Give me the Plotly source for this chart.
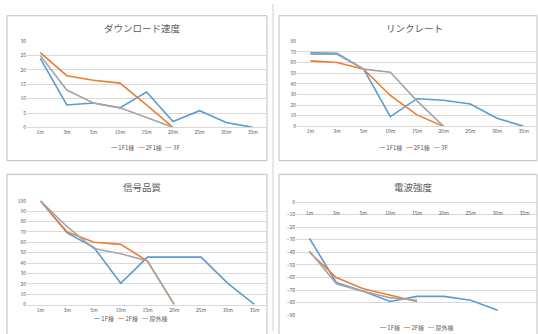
import plotly.graph_objects as go

W, H = 538, 334

cats = ["1m", "3m", "5m", "10m", "15m", "20m", "25m", "30m", "35m"]

dl_1f = [24, 7.8, 8.5, 6.8, 12.3, 2, 5.8, 1.7, 0]
dl_2f = [26, 18, 16.4, 15.4, 7.8, 0]
dl_3f = [25, 13, 8.5, 6.8, 3.4, 0]

lr_1f = [69, 68.6, 53.8, 9.2, 26, 24.6, 21, 7.7, 0]
lr_2f = [61.5, 60, 53.8, 29, 10.8, 0]
lr_3f = [67.7, 67.7, 53.8, 50.8, 24, 0]

sq_1f = [100, 69, 55, 20.5, 45.7, 45.7, 45.7, 20.5, 0]
sq_2f = [100, 70, 60, 58, 42, 0]
sq_3f = [100, 75, 54, 49, 42, 0]

rs_1f = [-29, -64, -71, -79, -75, -75, -78, -86]
rs_2f = [-40, -60, -69, -74, -79]
rs_3f = [-39, -65, -71, -76, -78]

titles = ["ダウンロード速度", "リンクレート", "信号品質", "電波強度"]
names_top = ["1F1棟", "2F1棟", "3F"]
names_bot = ["1F棟", "2F棟", "屋外棟"]
colors = ["#5B9BD5", "#ED7D31", "#A5A5A5"]

FONT = "Noto Sans CJK JP"
TXT = "#595959"
GRID = "#D9D9D9"

def fx(px):
    return px / W

def fy(py):
    return 1 - py / H

fig = go.Figure()

panels = [
    dict(area=(27, 266, 38, 126), yr=[0, 30], dt=5, series=[dl_1f, dl_2f, dl_3f], names=names_top,
         title_xy=(142, 25), legend_xy=(145, 147)),
    dict(area=(297, 537, 38, 125), yr=[0, 80], dt=10, series=[lr_1f, lr_2f, lr_3f], names=names_top,
         title_xy=(414, 25), legend_xy=(413, 147)),
    dict(area=(27, 268, 201, 307), yr=[0, 100], dt=10, series=[sq_1f, sq_2f, sq_3f], names=names_bot,
         title_xy=(142, 187), legend_xy=(130, 321)),
    dict(area=(296, 538, 202, 318), yr=[-90, 0], dt=10, series=[rs_1f, rs_2f, rs_3f], names=names_bot,
         title_xy=(413, 187), legend_xy=(416, 330)),
]

layout = dict(width=W, height=H, margin=dict(l=0, r=0, t=0, b=0),
              paper_bgcolor="white", plot_bgcolor="white", showlegend=False,
              font=dict(family=FONT, color=TXT, size=6))
annotations = []
shapes = []

for i, p in enumerate(panels):
    k = "" if i == 0 else str(i + 1)
    x0, x1, yt, yb = p["area"]
    for s, nm, c in zip(p["series"], p["names"], colors):
        fig.add_trace(go.Scatter(x=cats[:len(s)], y=s, mode="lines", name=nm,
                                 line=dict(color=c, width=1.6),
                                 xaxis="x" + k, yaxis="y" + k))
    xa = dict(domain=[fx(x0), fx(x1)], anchor="y" + k, type="category",
              categoryorder="array", categoryarray=cats, range=[-0.5, 8.5],
              showgrid=False, showline=True, linecolor=GRID, linewidth=1,
              ticks="", tickfont=dict(size=5, color=TXT, family=FONT), fixedrange=True)
    if i == 3:
        xa.update(anchor="free", position=fy(yt), side="bottom", ticklabelstandoff=6)
    ya = dict(domain=[fy(yb), fy(yt)], anchor="x" + k, range=p["yr"], dtick=p["dt"],
              showgrid=True, gridcolor=GRID, gridwidth=1, zeroline=False,
              showline=False, ticks="", tickfont=dict(size=5, color=TXT, family=FONT),
              fixedrange=True)
    layout["xaxis" + k] = xa
    layout["yaxis" + k] = ya
    tx, ty = p["title_xy"]
    annotations.append(dict(text=titles[i], x=fx(tx), y=fy(ty), xref="paper", yref="paper",
                            showarrow=False, xanchor="center", yanchor="middle",
                            font=dict(size=9.5, color=TXT, family=FONT)))
    lx, ly = p["legend_xy"]
    leg = "   ".join(f"<span style='color:{c}'>━</span> {n}" for n, c in zip(p["names"], colors))
    annotations.append(dict(text=leg, x=fx(lx), y=fy(ly), xref="paper", yref="paper",
                            showarrow=False, xanchor="center", yanchor="middle",
                            font=dict(size=6, color=TXT, family=FONT)))

for (a, b, c, d) in [(7, 12, 267, 160), (279, 12, 537, 160), (7, 174, 267, 340), (279, 174, 537, 340)]:
    shapes.append(dict(type="rect", xref="paper", yref="paper", x0=fx(a), x1=fx(c), y0=fy(d), y1=fy(b),
                       line=dict(color="#BFBFBF", width=1), layer="below"))
shapes.append(dict(type="line", xref="paper", yref="paper", x0=fx(273), x1=fx(273), y0=0, y1=1,
                   line=dict(color="#D0D0D0", width=1)))

layout["annotations"] = annotations
layout["shapes"] = shapes
fig.update_layout(**layout)
fig.write_html("out.html")
